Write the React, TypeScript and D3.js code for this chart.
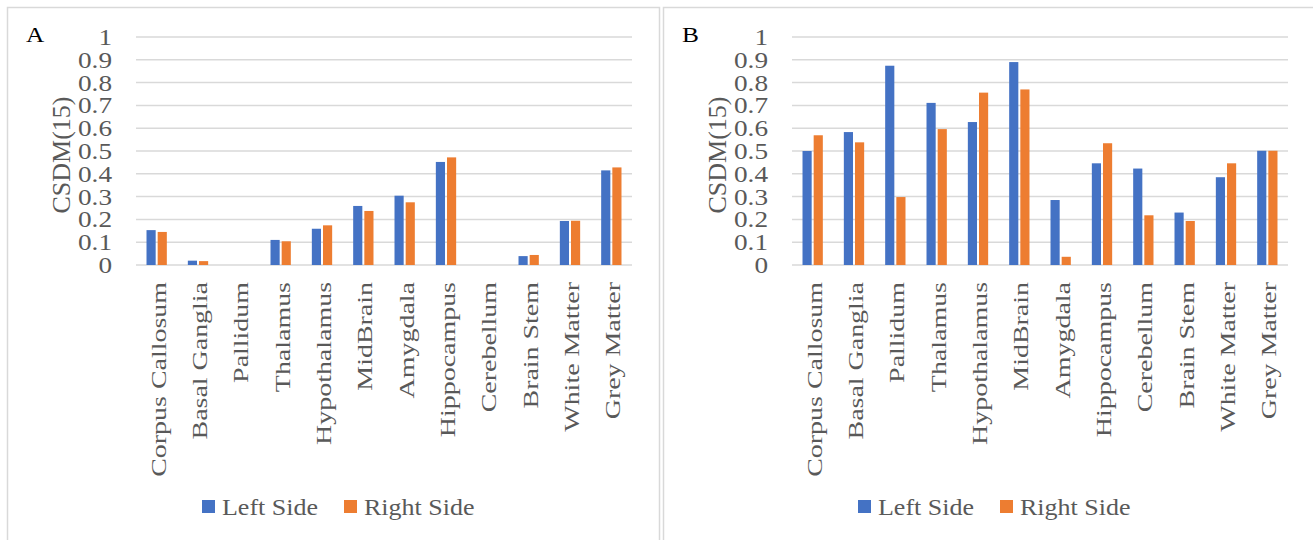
import React from "react";
import * as d3 from "d3";

const categories = [
  "Corpus Callosum", "Basal Ganglia", "Pallidum", "Thalamus", "Hypothalamus", "MidBrain",
  "Amygdala", "Hippocampus", "Cerebellum", "Brain Stem", "White Matter", "Grey Matter",
];
const seriesNames = ["Left Side", "Right Side"];
const leftA = [0.153, 0.019, 0, 0.11, 0.159, 0.259, 0.304, 0.452, 0, 0.039, 0.193, 0.415];
const rightA = [0.145, 0.017, 0, 0.104, 0.174, 0.237, 0.275, 0.472, 0, 0.044, 0.194, 0.428];
const leftB = [0.5, 0.583, 0.874, 0.711, 0.627, 0.89, 0.285, 0.446, 0.423, 0.23, 0.385, 0.501];
const rightB = [0.569, 0.538, 0.298, 0.596, 0.756, 0.77, 0.036, 0.534, 0.218, 0.193, 0.446, 0.501];
const yTicks = [0, 0.1, 0.2, 0.3, 0.4, 0.5, 0.6, 0.7, 0.8, 0.9, 1];
const yTitle = "CSDM(15)";
const panelLabels = ["A", "B"];

const COLORS = ["#4472C4", "#ED7D31"];
const FONT = "Liberation Serif, Times New Roman, serif";
const TXT = "#595959";

function Panel({ dx, label, left, right }: { dx: number; label: string; left: number[]; right: number[] }) {
  const x = d3.scaleBand<string>().domain(categories).range([136 + dx, 632 + dx]);
  const x1 = d3
    .scaleBand<string>()
    .domain(seriesNames)
    .range([x.bandwidth() * 0.23, x.bandwidth() * 0.77]);
  const y = d3.scaleLinear().domain([0, 1]).range([265, 37]);
  const vals = [left, right];
  return (
    <g>
      <text transform={`translate(${26 + dx},42) scale(1.15,1)`} fontSize={22} fill="#000" fontFamily={FONT}>
        {label}
      </text>
      {yTicks.map((t) => (
        <line key={"g" + t} x1={136 + dx} x2={632 + dx} y1={y(t)} y2={y(t)} stroke="#d9d9d9" strokeWidth={1.5} />
      ))}
      {yTicks.map((t) => (
        <text
          key={"t" + t}
          transform={`translate(${112 + dx},${y(t)}) scale(1.16,1)`}
          dy="0.34em"
          textAnchor="end"
          fontSize={23.5}
          fill={TXT}
          fontFamily={FONT}
        >
          {String(t)}
        </text>
      ))}
      <text
        transform={`translate(${62 + dx},155) rotate(-90)`}
        textAnchor="middle"
        dy="0.32em"
        fontSize={26}
        fill={TXT}
        fontFamily={FONT}
      >
        {yTitle}
      </text>
      {categories.map((c, i) => (
        <g key={c}>
          {seriesNames.map((s, k) => {
            const v = vals[k][i];
            if (!v) return null;
            return (
              <rect
                key={s}
                x={(x(c) as number) + (x1(s) as number) + 1}
                width={x1.bandwidth() - 2}
                y={y(v)}
                height={y(0) - y(v)}
                fill={COLORS[k]}
              />
            );
          })}
          <text
            transform={`translate(${(x(c) as number) + x.bandwidth() / 2 + 2},282) rotate(-90) scale(1.3,1)`}
            textAnchor="end"
            dy="0.32em"
            fontSize={21.5}
            fill={TXT}
            fontFamily={FONT}
          >
            {c}
          </text>
        </g>
      ))}
      {seriesNames.map((s, k) => {
        const lx = [202, 344][k] + dx;
        return (
          <g key={s}>
            <rect x={lx} y={500} width={13} height={13} fill={COLORS[k]} />
            <text transform={`translate(${lx + 20},515) scale(1.13,1)`} fontSize={23} fill={TXT} fontFamily={FONT}>
              {s}
            </text>
          </g>
        );
      })}
    </g>
  );
}

export default function App() {
  return (
    <svg width={1313} height={540} style={{ position: "absolute", left: 0, top: 0, background: "#fff" }}>
      <rect x={0} y={0} width={1313} height={540} fill="#fff" />
      <rect x={7.5} y={7.5} width={652} height={540} fill="none" stroke="#d9d9d9" strokeWidth={1.5} />
      <rect x={663.5} y={7.5} width={700} height={540} fill="none" stroke="#d9d9d9" strokeWidth={1.5} />
      <Panel dx={0} label={panelLabels[0]} left={leftA} right={rightA} />
      <Panel dx={656} label={panelLabels[1]} left={leftB} right={rightB} />
    </svg>
  );
}
